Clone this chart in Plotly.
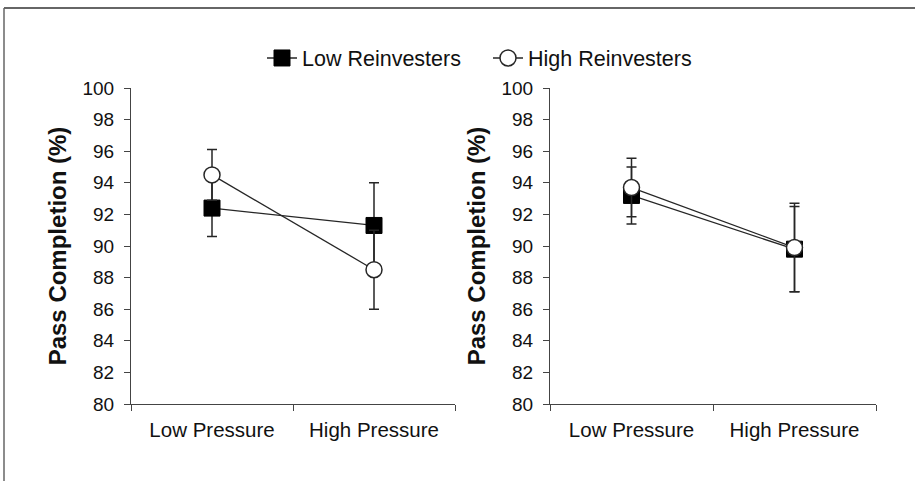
import plotly.graph_objects as go

conditions = ["Low Pressure", "High Pressure"]

# Left panel
left_low_reinv = [92.4, 91.3]
left_low_reinv_err = [1.8, 2.7]
left_high_reinv = [94.5, 88.5]
left_high_reinv_err = [1.6, 2.5]

# Right panel
right_low_reinv = [93.2, 89.8]
right_low_reinv_err = [1.8, 2.7]
right_high_reinv = [93.7, 89.9]
right_high_reinv_err = [1.85, 2.8]

W, H = 915, 481
fig = go.Figure()

line_col = "#262626"
FONT = "Liberation Sans, Arial"

def add_pair(xa, ya, low, low_err, high, high_err, show):
    fig.add_trace(go.Scatter(
        x=conditions, y=low, xaxis=xa, yaxis=ya, name="Low Reinvesters",
        mode="lines+markers", showlegend=show, legendrank=1, hoverinfo="skip",
        line=dict(color=line_col, width=1.3),
        marker=dict(symbol="square", size=16, color="black", line=dict(color="black", width=1)),
        error_y=dict(type="data", array=low_err, visible=True, color=line_col, thickness=1.5, width=5),
    ))
    fig.add_trace(go.Scatter(
        x=conditions, y=high, xaxis=xa, yaxis=ya, name="High Reinvesters",
        mode="lines+markers", showlegend=show, legendrank=2, hoverinfo="skip",
        line=dict(color=line_col, width=1.3),
        marker=dict(symbol="circle", size=16, color="white", line=dict(color=line_col, width=1.5)),
        error_y=dict(type="data", array=high_err, visible=True, color=line_col, thickness=1.5, width=5),
    ))

add_pair("x", "y", left_low_reinv, left_low_reinv_err, left_high_reinv, left_high_reinv_err, True)
add_pair("x2", "y2", right_low_reinv, right_low_reinv_err, right_high_reinv, right_high_reinv_err, False)

y_bottom = (H - 404) / H
y_top = (H - 88) / H

xcommon = dict(
    type="category", range=[-0.5, 1.5], tickson="boundaries", ticks="outside",
    ticklen=6, tickcolor="#444", showline=True, linecolor="#444", linewidth=1.2,
    showgrid=False, zeroline=False, ticklabelstandoff=7, automargin=False,
    tickfont=dict(family=FONT, size=20.5, color="#111"),
)
ycommon = dict(
    range=[80, 100], dtick=2, ticks="outside", ticklen=6, tickcolor="#444",
    showline=True, linecolor="#444", linewidth=1.2, showgrid=False, zeroline=False,
    ticklabelstandoff=6, automargin=False,
    tickfont=dict(family=FONT, size=19, color="#111"),
    title=dict(text="<b>Pass Completion (%)</b>", font=dict(family=FONT, size=24, color="#111"), standoff=8),
)

fig.update_layout(
    template="none",
    width=W, height=H, autosize=False,
    margin=dict(l=0, r=0, t=0, b=0, pad=0, autoexpand=False),
    paper_bgcolor="white", plot_bgcolor="white",
    xaxis=dict(domain=[131 / W, 455 / W], anchor="y", **xcommon),
    yaxis=dict(domain=[y_bottom, y_top], anchor="x", **ycommon),
    xaxis2=dict(domain=[550 / W, 876 / W], anchor="y2", **xcommon),
    yaxis2=dict(domain=[y_bottom, y_top], anchor="x2", **ycommon),
    legend=dict(orientation="h", x=488 / W, xanchor="center", y=(H - 58) / H, yanchor="middle",
                font=dict(family=FONT, size=21.5, color="#111"),
                bgcolor="rgba(0,0,0,0)", itemwidth=30, traceorder="normal",
                entrywidth=181),
    shapes=[
        dict(type="line", xref="paper", yref="paper", x0=4 / W, x1=1, y0=(H - 8) / H, y1=(H - 8) / H,
             line=dict(color="#666", width=2)),
        dict(type="line", xref="paper", yref="paper", x0=4 / W, x1=4 / W, y0=0, y1=(H - 8) / H,
             line=dict(color="#666", width=1.5)),
    ],
)

fig.write_html(
    "out.html",
    config={"displayModeBar": False, "responsive": False},
    post_script="document.body.style.margin='0';document.body.style.padding='0';document.body.style.overflow='hidden';",
)
